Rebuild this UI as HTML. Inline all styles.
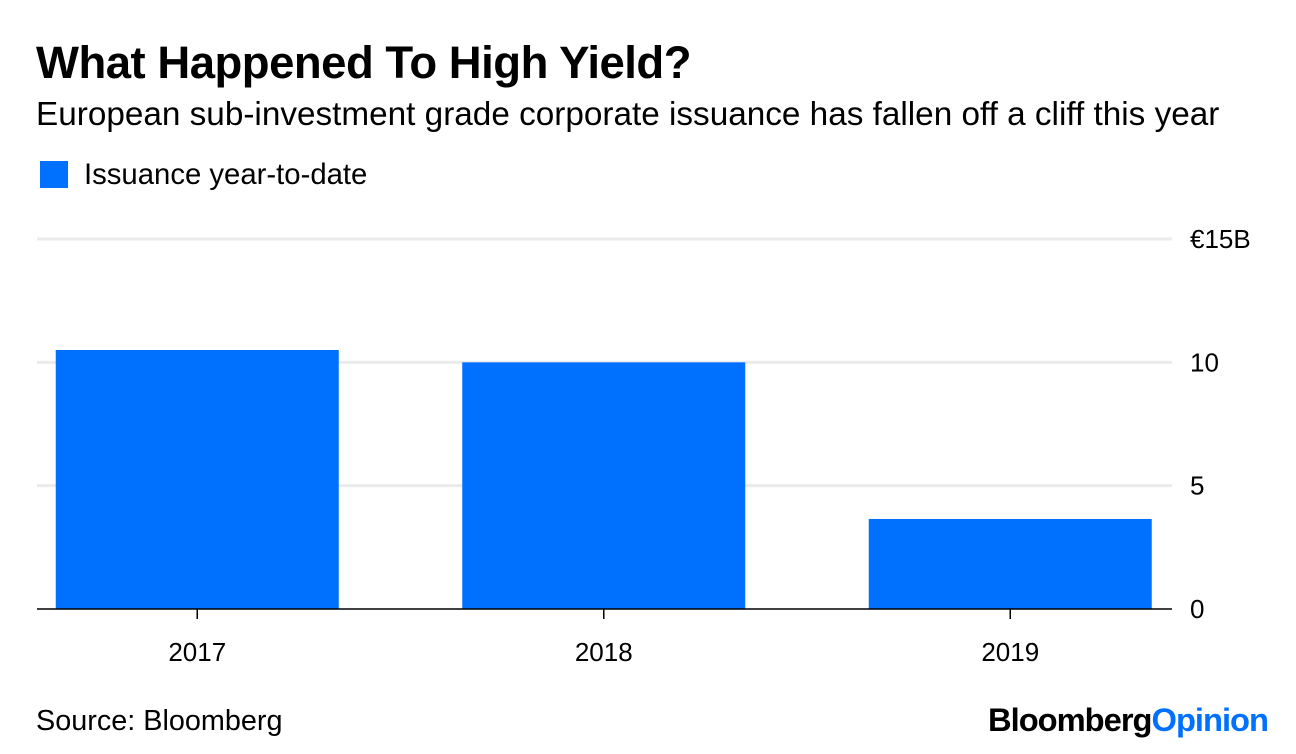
<!DOCTYPE html>
<html><head><meta charset="utf-8">
<style>
body{margin:0;width:1296px;height:754px;background:#fff;font-family:"Liberation Sans",Arial,sans-serif;color:#000;overflow:hidden;position:relative}
.t{position:absolute;white-space:nowrap}
</style></head><body>
<div class="t" style="left:36px;top:37px;font-size:45.5px;font-weight:bold;letter-spacing:-0.5px">What Happened To High Yield?</div>
<div class="t" style="left:36px;top:96px;font-size:33.3px">European sub-investment grade corporate issuance has fallen off a cliff this year</div>
<div style="position:absolute;left:40px;top:161px;width:28px;height:27px;background:#0070ff"></div>
<div class="t" style="left:84px;top:158px;font-size:29.3px">Issuance year-to-date</div>
<svg id="chart" width="1296" height="754" style="position:absolute;left:0;top:0"></svg>
<div class="t" style="left:36px;top:705px;font-size:28.8px">Source: Bloomberg</div>
<div class="t" style="right:28px;top:701px;font-size:32.7px;font-weight:bold;letter-spacing:-1px">Bloomberg<span style="color:#0070ff">Opinion</span></div>
<script>
const categories=["2017","2018","2019"];
const values=[10.5,10.0,3.65];
const ticks=[0,5,10,15];
const tickLabels=["0","5","10","€15B"];
const svg=document.getElementById('chart');
const NS="http://www.w3.org/2000/svg";
const x0=37,x1=1172,y0=609,yTop=239,vMax=15;
const y=v=>y0-(y0-yTop)*v/vMax;
const bandStart=-6,band=406.5;
const bw=283;
function mk(t,a){const e=document.createElementNS(NS,t);for(const k in a)e.setAttribute(k,a[k]);svg.appendChild(e);return e;}
ticks.forEach((v,i)=>{
 if(v>0){const g=mk('line',{x1:x0,x2:x1,y1:y(v),y2:y(v),stroke:'#ebebeb','stroke-width':3});
 
 }
 const t=mk('text',{x:1190,y:y(v)+9,'font-size':26,'font-family':'Liberation Sans, sans-serif'});
 t.textContent=tickLabels[i];
 
 
});
categories.forEach((c,i)=>{
 const cx=bandStart+band*(i+0.5);
 const r=mk('rect',{x:cx-bw/2,y:y(values[i]),width:bw,height:y0-y(values[i]),fill:'#0070ff'});
 
 
 const tk=mk('line',{x1:cx,x2:cx,y1:y0,y2:y0+10,stroke:'#000','stroke-width':1.5});
 
 
 const t=mk('text',{x:cx,y:661,'font-size':26,'text-anchor':'middle','font-family':'Liberation Sans, sans-serif'});
 t.textContent=c;
 
 
});
const ax=mk('line',{x1:x0,x2:x1,y1:y0,y2:y0,stroke:'#000','stroke-width':1.5});


</script>
</body></html>
